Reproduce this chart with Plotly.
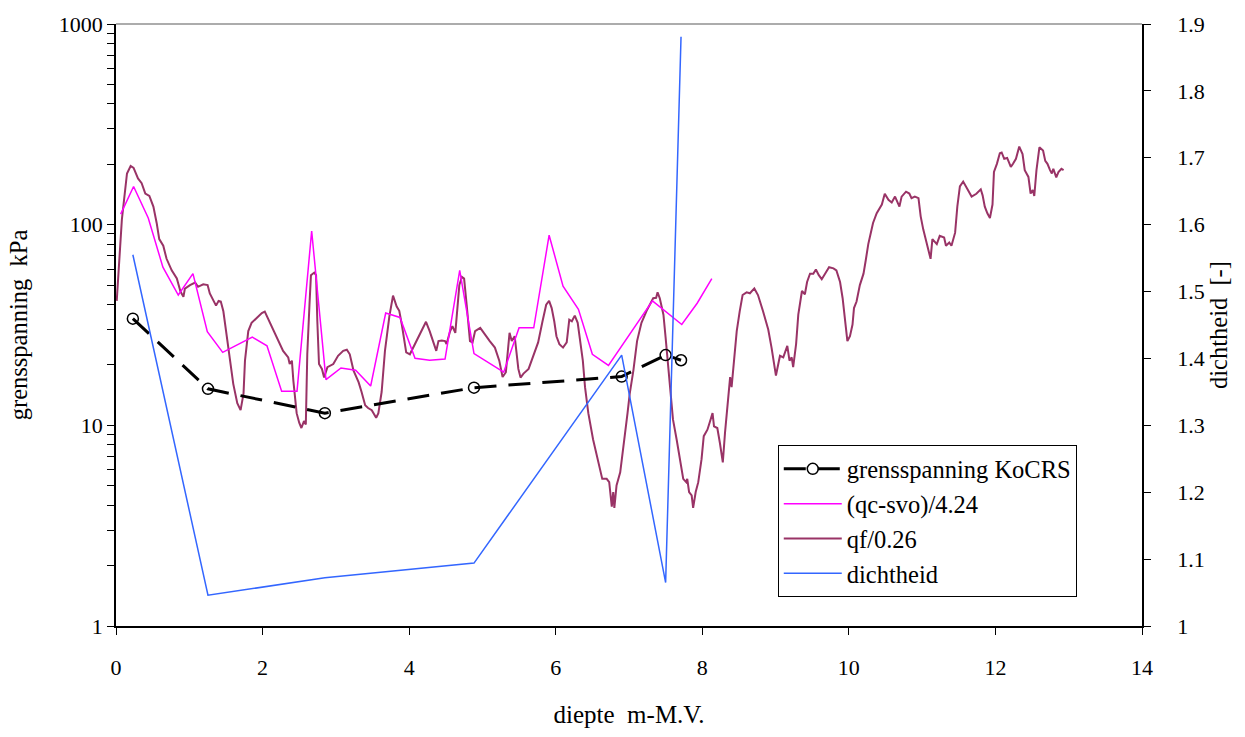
import plotly.graph_objects as go

# ---------------- data ----------------
kocrs_depth = [0.23, 1.255, 2.85, 4.885, 6.90, 7.50, 7.71]
kocrs_kpa = [34.0, 15.2, 11.5, 15.4, 17.5, 22.4, 21.1]

dichtheid_depth = [0.23, 1.255, 2.85, 4.885, 6.90, 7.50, 7.71]
dichtheid = [1.555, 1.046, 1.072, 1.094, 1.405, 1.065, 1.881]

qc_depth = [0.064, 0.24, 0.44, 0.64, 0.85, 1.05, 1.246, 1.456, 1.86, 2.06,
            2.26, 2.47, 2.67, 2.865, 3.07, 3.27, 3.475, 3.68, 3.875, 4.08,
            4.28, 4.49, 4.69, 4.885, 5.29, 5.50, 5.70, 5.91, 6.10, 6.31,
            6.50, 6.72, 7.32, 7.72, 7.93, 8.13]
qc_kpa = [112.8, 155, 108, 61.4, 44.6, 57, 29.3, 23.1, 27.5, 24.9,
          14.8, 14.8, 93, 16.9, 19.3, 18.8, 15.7, 36.3, 34.5, 21.6,
          21.1, 21.4, 59.2, 22.8, 18.4, 30.6, 30.6, 88.6, 49.4, 37.9,
          22.6, 19.9, 41.7, 31.8, 40.6, 53.9]

qf_depth = [0.01, 0.08, 0.15, 0.20, 0.24, 0.30, 0.35, 0.40, 0.455, 0.51,
            0.555, 0.59, 0.645, 0.69, 0.76, 0.83, 0.88, 0.92, 0.94, 1.01,
            1.08, 1.12, 1.19, 1.25, 1.28, 1.33, 1.365, 1.40, 1.43, 1.465,
            1.50, 1.545, 1.60, 1.655, 1.70, 1.74, 1.76, 1.805, 1.85, 1.92,
            1.99, 2.03, 2.10, 2.19, 2.28, 2.35, 2.37, 2.40, 2.42, 2.465,
            2.50, 2.53, 2.565, 2.59, 2.61, 2.64, 2.66, 2.705, 2.73, 2.747,
            2.77, 2.81, 2.84, 2.885, 2.965, 3.03, 3.10, 3.15, 3.19, 3.24,
            3.31, 3.35, 3.40, 3.44, 3.49, 3.55, 3.58, 3.625, 3.67, 3.73,
            3.78, 3.83, 3.865, 3.90, 3.93, 3.96, 4.01, 4.08, 4.15, 4.23,
            4.28, 4.33, 4.37, 4.40, 4.445, 4.49, 4.51, 4.56, 4.59, 4.63,
            4.65, 4.685, 4.72, 4.75, 4.785, 4.83, 4.865, 4.90, 4.97, 5.03,
            5.10, 5.17, 5.23, 5.275, 5.32, 5.37, 5.40, 5.44, 5.49, 5.52,
            5.56, 5.63, 5.695, 5.76, 5.82, 5.87, 5.91, 5.945, 5.98, 6.01,
            6.05, 6.10, 6.15, 6.185, 6.22, 6.26, 6.30, 6.33, 6.37, 6.40,
            6.445, 6.51, 6.58, 6.635, 6.695, 6.73, 6.765, 6.785, 6.80, 6.83,
            6.88, 6.92, 6.98, 7.01, 7.06, 7.11, 7.17, 7.24, 7.295, 7.33,
            7.37, 7.39, 7.42, 7.47, 7.50, 7.535, 7.57, 7.60, 7.65, 7.695,
            7.74, 7.78, 7.795, 7.82, 7.855, 7.875, 7.91, 7.945, 7.99, 8.02,
            8.07, 8.10, 8.14, 8.16, 8.205, 8.24, 8.28, 8.31, 8.355, 8.38,
            8.40, 8.42, 8.47, 8.51, 8.55, 8.605, 8.65, 8.71, 8.76, 8.83,
            8.90, 8.945, 9.005, 9.06, 9.105, 9.16, 9.19, 9.22, 9.24, 9.28,
            9.31, 9.36, 9.40, 9.43, 9.47, 9.515, 9.55, 9.59, 9.63, 9.69,
            9.73, 9.79, 9.83, 9.88, 9.915, 9.95, 9.98, 10.015, 10.05, 10.07,
            10.105, 10.15, 10.20, 10.23, 10.265, 10.30, 10.33, 10.38, 10.45, 10.49,
            10.54, 10.585, 10.63, 10.69, 10.72, 10.78, 10.825, 10.855, 10.90, 10.95,
            10.98, 11.015, 11.06, 11.115, 11.14, 11.20, 11.24, 11.30, 11.325, 11.37,
            11.40, 11.45, 11.48, 11.515, 11.56, 11.63, 11.675, 11.74, 11.80, 11.825,
            11.855, 11.89, 11.925, 11.96, 11.98, 12.02, 12.06, 12.085, 12.12, 12.16,
            12.21, 12.24, 12.28, 12.325, 12.37, 12.40, 12.45, 12.48, 12.51, 12.53,
            12.56, 12.60, 12.65, 12.68, 12.71, 12.745, 12.77, 12.79, 12.83, 12.86,
            12.90, 12.93]
qf_kpa = [41.7, 106, 180, 196, 192, 170, 161, 143, 139, 123,
          102, 84.7, 78.5, 67.6, 59.2, 53.9, 46.4, 43.7, 48, 50,
          51.5, 49, 50.4, 50, 45.4, 41.4, 39.5, 41.7, 41.4, 37,
          29.5, 21.8, 16.1, 12.9, 11.9, 14.4, 21, 29.5, 32.4, 34.3,
          36.3, 36.9, 32.4, 27.3, 23.5, 21.8, 20.2, 21.0, 16.7, 11.5,
          10.3, 9.7, 10.5, 10.1, 22.6, 39.9, 56, 57.7, 56, 33,
          20.2, 19.1, 17.3, 19.5, 20.2, 22.2, 23.5, 23.8, 22.6, 18.8,
          16.4, 14.7, 12.6, 12.2, 11.9, 10.9, 11.5, 14.7, 23.5, 34.9,
          44.3, 39.1, 37.2, 31.8, 26.3, 23.1, 22.6, 25.4, 28.4, 32.8,
          29.5, 25.9, 23.5, 26.3, 26.5, 26.3, 25.4, 29.5, 31.2, 28.9,
          34.3, 50, 54.9, 53.9, 39.9, 26.3, 25.9, 29.5, 30.6, 28.4,
          26.3, 24.4, 21.0, 17.4, 18.4, 28.9, 26.3, 27.8, 19.1, 17.3,
          18.1, 19.1, 22.2, 25.9, 33, 39.9, 41.7, 38.4, 33, 27.8,
          25.4, 24.4, 25.9, 33.6, 33, 35.2, 32.4, 27.3, 21.0, 15.5,
          11.5, 8.5, 6.53, 5.41, 5.41, 5.21, 3.93, 4.65, 3.88, 5.02,
          5.83, 7.89, 11.5, 14.4, 18.8, 26.3, 32.4, 37.2, 40.6, 43,
          43.2, 46, 43, 35.6, 27.3, 20.2, 14.4, 10.7, 8.5, 6.78,
          5.41, 5.21, 5.41, 4.65, 4.48, 3.88, 4.65, 5.21, 6.78, 8.83,
          9.51, 10.3, 11.5, 9.89, 9.7, 8.19, 6.53, 9.17, 14.4, 17.4,
          15.5, 18.8, 29.5, 36.9, 44.6, 46, 45.5, 48.1, 44.6, 36.9,
          30, 24.4, 17.7, 22.2, 21.8, 24.9, 21.0, 21.8, 19.5, 25.4,
          35.6, 46.7, 45, 51.8, 57, 57, 59.8, 56, 53.5, 58.1,
          61.4, 60.6, 59.2, 51.8, 43, 33, 26.3, 27.8, 31.8, 38.4,
          41.4, 50, 57, 66.3, 80, 91.2, 102, 114, 126, 142.6,
          133, 129, 138, 123, 138, 146, 143, 135.5, 138, 135.5,
          110, 94.8, 80, 67.6, 84.7, 80, 88, 86.3, 78.5, 81.5,
          78.5, 91.2, 123, 155, 164, 149, 138, 142.6, 150, 140,
          123, 114, 108, 126, 183, 201, 227, 229, 213, 215,
          194, 201, 213, 245, 225, 187, 173, 143, 149, 139,
          187, 243, 234, 208, 201, 187, 180, 190, 172, 183,
          190, 187]

log_tickvals = [m * 10 ** e for e in range(0, 3) for m in range(1, 10)] + [1000]
log_ticktext = [str(v) if v in (1, 10, 100, 1000) else "" for v in log_tickvals]
right_tickvals = [1.0, 1.1, 1.2, 1.3, 1.4, 1.5, 1.6, 1.7, 1.8, 1.9]
right_ticktext = ["1", "1.1", "1.2", "1.3", "1.4", "1.5", "1.6", "1.7", "1.8", "1.9"]

FONT = "Liberation Serif, Times New Roman, serif"

fig = go.Figure()
fig.add_trace(go.Scatter(
    x=dichtheid_depth, y=dichtheid, yaxis="y2", mode="lines",
    line=dict(color="#3366FF", width=1.5), name="dichtheid",
    legendrank=4))
fig.add_trace(go.Scatter(
    x=qf_depth, y=qf_kpa, mode="lines",
    line=dict(color="#993366", width=2), name="qf/0.26",
    legendrank=3))
fig.add_trace(go.Scatter(
    x=qc_depth, y=qc_kpa, mode="lines",
    line=dict(color="#FF00FF", width=1.5), name="(qc-svo)/4.24",
    legendrank=2))
fig.add_trace(go.Scatter(
    x=kocrs_depth, y=kocrs_kpa, mode="lines+markers",
    line=dict(color="black", width=3, dash="22px,12px"),
    marker=dict(symbol="circle-open", size=11, color="black", line=dict(width=1.5)),
    name="grensspanning KoCRS", legendrank=1))

fig.update_layout(
    width=1245, height=737,
    margin=dict(l=116, r=103, t=15, b=111),
    paper_bgcolor="white", plot_bgcolor="white",
    font=dict(family=FONT, size=22, color="black"),
    showlegend=True,
    legend=dict(
        x=0.645, y=0.30, xanchor="left", yanchor="top",
        bordercolor="black", borderwidth=1, bgcolor="white",
        font=dict(family=FONT, size=24.5, color="black"),
        itemwidth=58, traceorder="normal",
    ),
    xaxis=dict(
        range=[0, 14], tickvals=[0, 2, 4, 6, 8, 10, 12, 14],
        showgrid=False, zeroline=False,
        showline=True, linecolor="black", linewidth=1.5,
        ticks="outside", ticklen=7, tickcolor="black",
        ticklabelstandoff=14,
        title=dict(text="diepte\u00a0 m-M.V.", standoff=26,
                   font=dict(family=FONT, size=25)),
    ),
    yaxis=dict(
        type="log", range=[0, 3],
        tickvals=log_tickvals, ticktext=log_ticktext,
        showgrid=False, zeroline=False,
        showline=True, linecolor="black", linewidth=1.5,
        ticks="outside", ticklen=7, tickcolor="black",
        title=dict(text="grensspanning\u00a0 kPa", standoff=24,
                   font=dict(family=FONT, size=24.5)),
    ),
    yaxis2=dict(
        overlaying="y", side="right", range=[1, 1.9],
        tickvals=right_tickvals, ticktext=right_ticktext,
        showgrid=False, zeroline=False,
        showline=True, linecolor="black", linewidth=1.5,
        ticks="outside", ticklen=7, tickcolor="black",
        ticklabelstandoff=22,
        title=dict(text="dichtheid\u00a0 [-]", standoff=4,
                   font=dict(family=FONT, size=24.5)),
    ),
    shapes=[dict(type="line", xref="paper", yref="paper", x0=0, x1=1, y0=1, y1=1,
                 line=dict(color="#909090", width=1.5))],
)

fig.write_html("out.html")
